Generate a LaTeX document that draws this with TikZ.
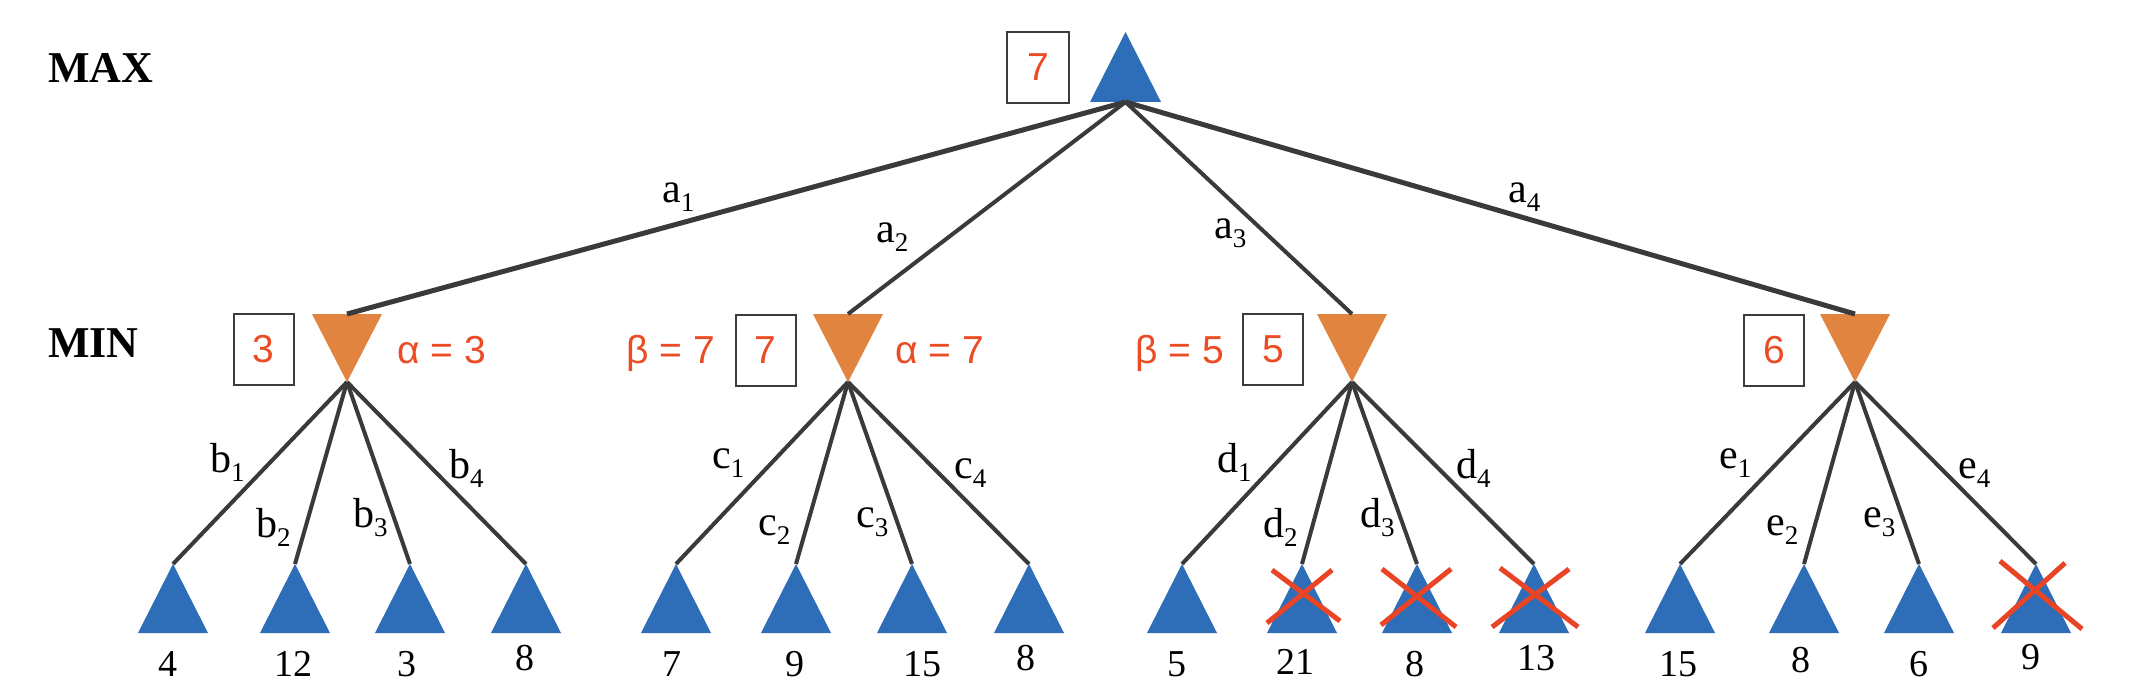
\documentclass[tikz,border=0pt]{standalone}
\usepackage{fontspec}
\setmainfont{Liberation Serif}
\newfontfamily\sansfam{Liberation Sans}
\definecolor{nodeblue}{RGB}{46,110,184}
\definecolor{nodeorange}{RGB}{224,132,64}
\definecolor{edgegray}{RGB}{58,58,58}
\definecolor{redtext}{RGB}{236,76,36}
\definecolor{crossred}{RGB}{234,68,38}
\definecolor{boxgray}{RGB}{60,60,60}
\newcommand{\lsub}[1]{\raisebox{-9pt}{\fontsize{27}{27}\selectfont #1}}
\begin{document}
\begin{tikzpicture}[x=1pt,y=-1pt,
  maxtri/.style={minimum width=70pt, minimum height=69pt, inner sep=0pt, outer sep=0pt},
  mintri/.style={minimum width=70pt, minimum height=68pt, inner sep=0pt, outer sep=0pt},
  edge/.style={draw=edgegray, line width=4pt},
  thickedge/.style={draw=edgegray, line width=5pt},
  valbox/.style={draw=boxgray, line width=2pt, minimum width=60pt, minimum height=71pt, inner sep=0pt,
    font=\sansfam\fontsize{39}{39}\selectfont, text=redtext},
  redlbl/.style={inner sep=0pt, font=\sansfam\fontsize{39}{39}\selectfont, text=redtext},
  elabel/.style={inner sep=0pt, font=\fontsize{42}{42}\selectfont},
  leafnum/.style={inner sep=0pt, font=\fontsize{38}{38}\selectfont},
  level/.style={inner sep=0pt, font=\bfseries\fontsize{44}{44}\selectfont},
  cross/.style={draw=crossred, line width=5pt}
]
\useasboundingbox (0,0) rectangle (2130,698);
\fill[white] (0,0) rectangle (2130,698);

% level labels
\node[level, anchor=base west] (maxlbl) at (48,83) {MAX};
\node[level, anchor=base west] (minlbl) at (48,357) {MIN};

% root
\node[maxtri, minimum width=71pt, minimum height=70pt] (root) at (1125.5,67) {};
% min nodes
\node[mintri] (m1) at (347,348) {};
\node[mintri] (m2) at (848,348) {};
\node[mintri] (m3) at (1352,348) {};
\node[mintri] (m4) at (1855,348) {};
% leaves
\foreach \x [count=\i] in {173,295,410,526,676,796,912,1029,1182,1302,1417,1534,1680,1804,1919,2036}
  \node[maxtri] (l\i) at (\x,598.5) {};

% triangle fills
\fill[nodeblue] (root.south west) -- (root.south east) -- (root.north) -- cycle;
\foreach \i in {1,...,16}
  \fill[nodeblue] (l\i.south west) -- (l\i.south east) -- (l\i.north) -- cycle;
\foreach \i in {1,...,4}
  \fill[nodeorange] (m\i.north west) -- (m\i.north east) -- (m\i.south) -- cycle;

% edges root -> min
\draw[thickedge] (root.south) -- (m1.north);
\draw[edge] (root.south) -- (m2.north);
\draw[edge] (root.south) -- (m3.north);
\draw[thickedge] (root.south) -- (m4.north);
% edges min -> leaves
\foreach \m/\a/\b/\c/\d in {1/1/2/3/4, 2/5/6/7/8, 3/9/10/11/12, 4/13/14/15/16} {
  \draw[edge] (m\m.south) -- (l\a.north);
  \draw[edge] (m\m.south) -- (l\b.north);
  \draw[edge] (m\m.south) -- (l\c.north);
  \draw[edge] (m\m.south) -- (l\d.north);
}

% edge labels
\node[elabel, anchor=base west] (la1) at (662,202) {a\lsub{1}};
\node[elabel, anchor=base west] (la2) at (876,242) {a\lsub{2}};
\node[elabel, anchor=base west] (la3) at (1214,238) {a\lsub{3}};
\node[elabel, anchor=base west] (la4) at (1508,202) {a\lsub{4}};
\node[elabel, anchor=base west] (lb1) at (210,472) {b\lsub{1}};
\node[elabel, anchor=base west] (lb2) at (256,537) {b\lsub{2}};
\node[elabel, anchor=base west] (lb3) at (353,527) {b\lsub{3}};
\node[elabel, anchor=base west] (lb4) at (449,478) {b\lsub{4}};
\node[elabel, anchor=base west] (lc1) at (712,468) {c\lsub{1}};
\node[elabel, anchor=base west] (lc2) at (758,535) {c\lsub{2}};
\node[elabel, anchor=base west] (lc3) at (856,527) {c\lsub{3}};
\node[elabel, anchor=base west] (lc4) at (954,478) {c\lsub{4}};
\node[elabel, anchor=base west] (ld1) at (1217,472) {d\lsub{1}};
\node[elabel, anchor=base west] (ld2) at (1263,537) {d\lsub{2}};
\node[elabel, anchor=base west] (ld3) at (1360,527) {d\lsub{3}};
\node[elabel, anchor=base west] (ld4) at (1456,478) {d\lsub{4}};
\node[elabel, anchor=base west] (le1) at (1719,468) {e\lsub{1}};
\node[elabel, anchor=base west] (le2) at (1766,535) {e\lsub{2}};
\node[elabel, anchor=base west] (le3) at (1863,527) {e\lsub{3}};
\node[elabel, anchor=base west] (le4) at (1958,478) {e\lsub{4}};

% leaf values
\foreach \x/\v/\y [count=\i] in {168/4/676, 293/12/676, 407/3/676, 525/8/670, 672/7/676, 795/9/676, 922/15/676, 1026/8/670, 1177/5/676, 1295/21/674, 1415/8/676, 1536/13/670, 1678/15/676, 1801/8/672, 1919/6/676, 2031/9/669}
  \node[leafnum, anchor=base] (n\i) at (\x,\y) {\v};

% value boxes
\node[valbox, minimum width=62pt] (v0) at (1038,67.5) {7};
\node[valbox] (v1) at (263.5,349) {3};
\node[valbox] (v2) at (765.5,350) {7};
\node[valbox] (v3) at (1273,349) {5};
\node[valbox] (v4) at (1774,350) {6};

% alpha / beta
\node[redlbl, anchor=base west] (al1) at (397,363) {α = 3};
\node[redlbl, anchor=base west] (be2) at (626,363) {β = 7};
\node[redlbl, anchor=base west] (al2) at (895,363) {α = 7};
\node[redlbl, anchor=base west] (be3) at (1135,363) {β = 5};

% pruned crosses
\draw[cross] (1272,570) -- (1340,621) (1332,570) -- (1267,623);
\draw[cross] (1382,569) -- (1456,627) (1451,569) -- (1381,625);
\draw[cross] (1500,568) -- (1578,627) (1569,569) -- (1492,627);
\draw[cross] (2000,561) -- (2082,629) (2065,563) -- (1993,628);
\end{tikzpicture}
\end{document}
